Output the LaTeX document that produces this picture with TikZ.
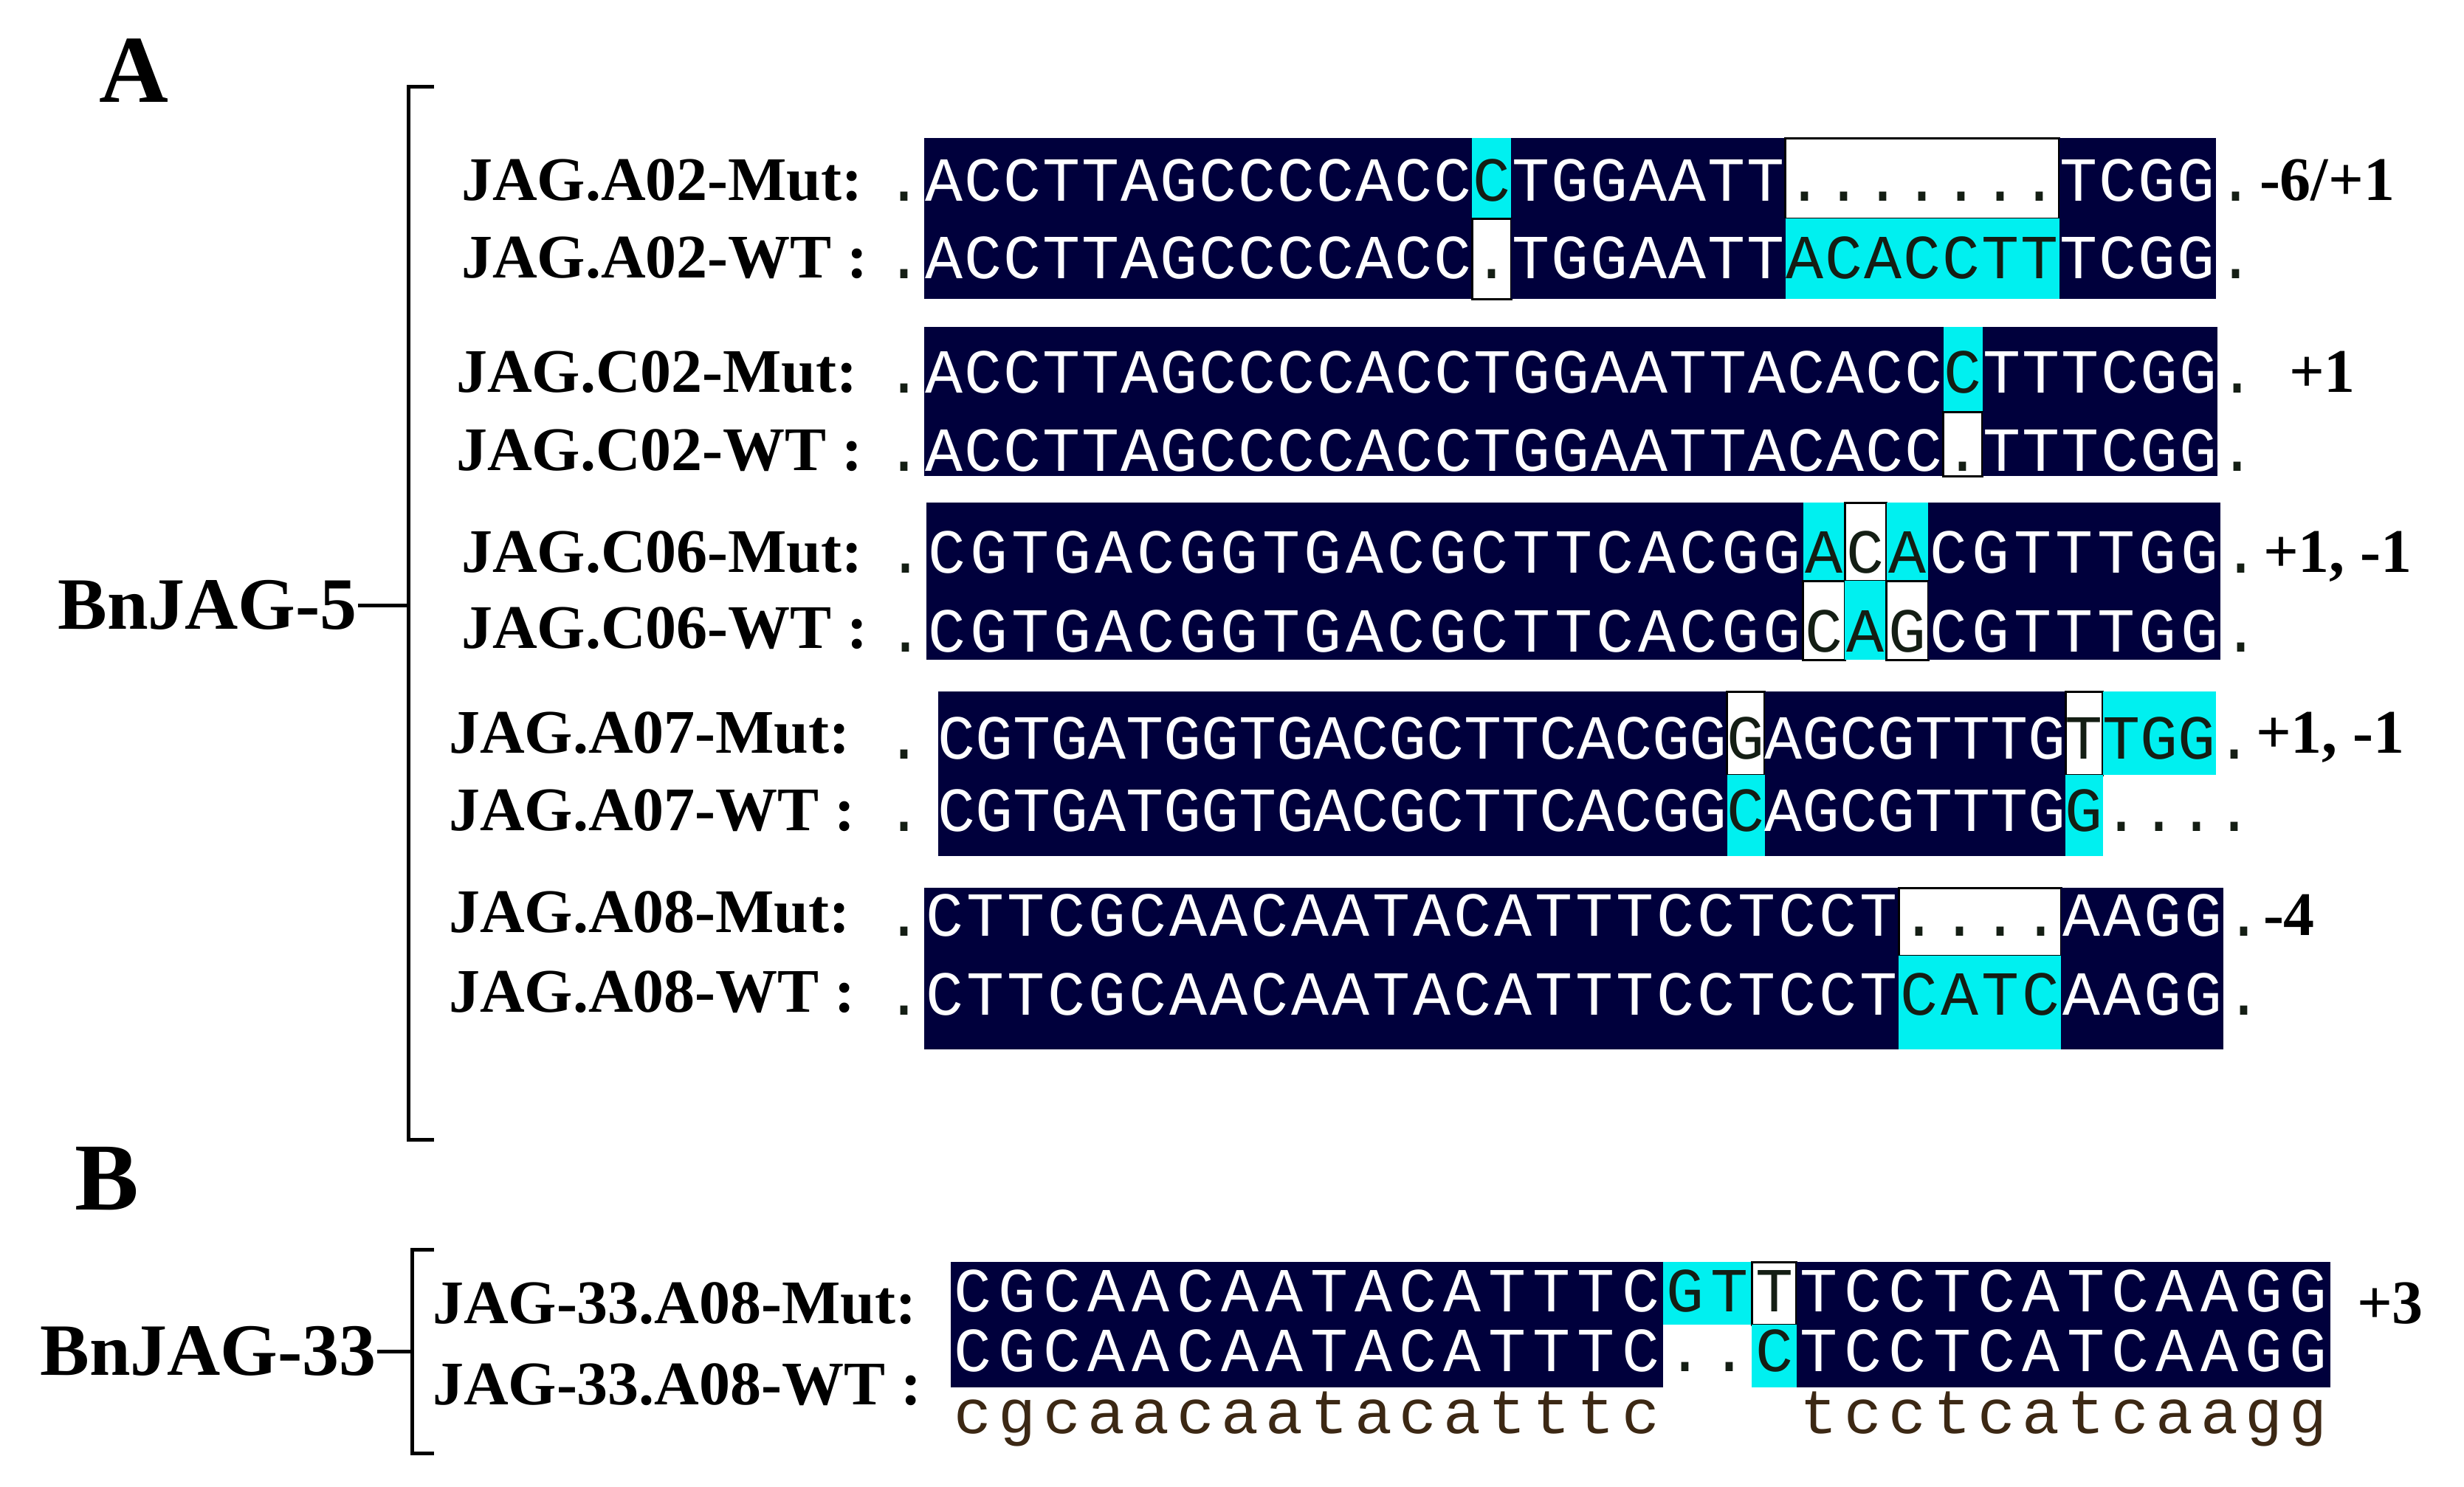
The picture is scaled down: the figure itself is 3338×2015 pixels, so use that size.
\documentclass[tikz,border=0pt]{standalone}
\usepackage{fontspec}
\usetikzlibrary{calc}
\setmainfont{Liberation Serif}
\newfontfamily\monof{Liberation Mono}
\definecolor{navy}{RGB}{0,0,60}
\definecolor{cy}{RGB}{0,240,240}
\definecolor{dk}{RGB}{20,30,20}
\definecolor{lc}{RGB}{60,40,20}
\newcommand\blk[2]{\def\xa{#1}\def\cw{#2}}
\newcommand\rc[5]{\fill[#1] ({\xa+#2*\cw},#4) rectangle ({\xa+#3*\cw},#5);}
\newcommand\gp[4]{\draw[gapl] ({\xa+#1*\cw},#3) rectangle ({\xa+#2*\cw},#4);}
\newcommand\sq[4]{\pgfmathsetmacro\xx{\xa+(#1+0.5)*\cw}\def\yy{#2}\def\sqcol{#3}\seqloop#4\relax}
\def\seqloop#1{\ifx\relax#1\else\if-#1\else\node[seqch,text=\sqcol] at (\xx,{\yy+27}) {#1};\fi\pgfmathsetmacro\xx{\xx+\cw}\expandafter\seqloop\fi}
\begin{document}
\begin{tikzpicture}[x=0.2pt,y=-0.2pt,
  seqch/.style={font=\monof\fontsize{17}{17}\selectfont,inner sep=0pt,anchor=base},
  lab/.style={font=\bfseries\fontsize{16.8}{16.8}\selectfont,inner sep=0pt,anchor=base west},
  rl/.style={font=\bfseries\fontsize{16.8}{16.8}\selectfont,inner sep=0pt,anchor=base west},
  big/.style={font=\bfseries\fontsize{26}{26}\selectfont,inner sep=0pt},
  gn/.style={font=\bfseries\fontsize{20}{20}\selectfont,inner sep=0pt,anchor=east},
  gapl/.style={fill=white,draw=black,line width=0.6pt},
  br/.style={draw=black,line width=1pt}]
\useasboundingbox (0,0) rectangle (3338,2015);
\fill[white] (0,0) rectangle (3338,2015);
% headings
\node[big] (A) at (181,96) {A};
\node[big] (B) at (145,1597) {B};
\node[gn] (g5) at (485,820) {BnJAG-5};
\node[gn] (g33) at (511,1831) {BnJAG-33};
\coordinate (b5t) at (553,117); \coordinate (b5b) at (553,1544); \coordinate (b5m) at (553,820);
\draw[br] ($(b5t)+(35,0)$) -- (b5t) -- (b5b) -- ++(35,0);
\draw[br] (g5.east) -- (b5m);
\coordinate (b3t) at (558,1693); \coordinate (b3b) at (558,1969); \coordinate (b3m) at (558,1831);
\draw[br] ($(b3t)+(30,0)$) -- (b3t) -- (b3b) -- ++(30,0);
\draw[br] (g33.east) -- (b3m);
% labels
\node[lab] (l1) at (624,271) {JAG.A02-Mut:};
\node[lab] (l2) at (624,376) {JAG.A02-WT :};
\node[lab] (l3) at (617,531) {JAG.C02-Mut:};
\node[lab] (l4) at (617,637) {JAG.C02-WT :};
\node[lab] (l5) at (624,775) {JAG.C06-Mut:};
\node[lab] (l6) at (624,878) {JAG.C06-WT :};
\node[lab] (l7) at (607,1020) {JAG.A07-Mut:};
\node[lab] (l8) at (607,1125) {JAG.A07-WT :};
\node[lab] (l9) at (607,1263) {JAG.A08-Mut:};
\node[lab] (l10) at (607,1371) {JAG.A08-WT :};
\node[lab] (l11) at (585,1793) {JAG-33.A08-Mut:};
\node[lab] (l12) at (585,1903) {JAG-33.A08-WT :};
% ---------- A02
\blk{1252}{53.03}
\rc{navy}{0}{14}{187}{296}\rc{cy}{14}{15}{187}{296}\rc{navy}{15}{22}{187}{296}\gp{22}{29}{187}{296}\rc{navy}{29}{33}{187}{296}
\rc{navy}{0}{14}{296}{405}\gp{14}{15}{296}{405}\rc{navy}{15}{22}{296}{405}\rc{cy}{22}{29}{296}{405}\rc{navy}{29}{33}{296}{405}
\sq{0}{245}{white}{ACCTTAGCCCCACC-TGGAATT-------TCGG}\sq{14}{245}{dk}{C}\sq{22}{245}{dk}{.......}
\sq{0}{350}{white}{ACCTTAGCCCCACC-TGGAATT-------TCGG}\sq{14}{350}{dk}{.}\sq{22}{350}{dk}{ACACCTT}
\sq{-1}{245}{dk}{.}\sq{-1}{350}{dk}{.}\sq{33}{245}{dk}{.}\sq{33}{350}{dk}{.}
\node[rl] (r1) at (3060,271) {-6/+1};
% ---------- C02
\blk{1252}{53.1}
\rc{navy}{0}{26}{443}{558}\rc{cy}{26}{27}{443}{558}\rc{navy}{27}{33}{443}{558}
\rc{navy}{0}{26}{558}{645}\gp{26}{27}{558}{645}\rc{navy}{27}{33}{558}{645}
\sq{0}{505}{white}{ACCTTAGCCCCACCTGGAATTACACC-TTTCGG}\sq{26}{505}{dk}{C}
\sq{0}{611}{white}{ACCTTAGCCCCACCTGGAATTACACC-TTTCGG}\sq{26}{611}{dk}{.}
\sq{-1}{505}{dk}{.}\sq{-1}{611}{dk}{.}\sq{33}{505}{dk}{.}\sq{33}{611}{dk}{.}
\node[rl] (r2) at (3100,531) {+1};
% ---------- C06
\blk{1255}{56.55}
\rc{navy}{0}{21}{681}{787}\rc{cy}{21}{22}{681}{787}\gp{22}{23}{681}{787}\rc{cy}{23}{24}{681}{787}\rc{navy}{24}{31}{681}{787}
\rc{navy}{0}{21}{787}{894}\gp{21}{22}{787}{894}\rc{cy}{22}{23}{787}{894}\gp{23}{24}{787}{894}\rc{navy}{24}{31}{787}{894}
\sq{0}{749}{white}{CGTGACGGTGACGCTTCACGG---CGTTTGG}\sq{21}{749}{dk}{ACA}
\sq{0}{856}{white}{CGTGACGGTGACGCTTCACGG---CGTTTGG}\sq{21}{856}{dk}{CAG}
\sq{-1}{749}{dk}{.}\sq{-1}{856}{dk}{.}\sq{31}{749}{dk}{.}\sq{31}{856}{dk}{.}
\node[rl] (r3) at (3065,775) {+1, -1};
% ---------- A07
\blk{1271}{50.9}
\rc{navy}{0}{21}{937}{1050}\gp{21}{22}{937}{1050}\rc{navy}{22}{30}{937}{1050}\gp{30}{31}{937}{1050}\rc{cy}{31}{34}{937}{1050}
\rc{navy}{0}{21}{1050}{1160}\rc{cy}{21}{22}{1050}{1160}\rc{navy}{22}{30}{1050}{1160}\rc{cy}{30}{31}{1050}{1160}
\sq{0}{1001}{white}{CGTGATGGTGACGCTTCACGG-AGCGTTTG}\sq{21}{1001}{dk}{G}\sq{30}{1001}{dk}{TTGG.}
\sq{0}{1099}{white}{CGTGATGGTGACGCTTCACGG-AGCGTTTG}\sq{21}{1099}{dk}{C}\sq{30}{1099}{dk}{G....}
\sq{-1.4}{1001}{dk}{.}\sq{-1.4}{1099}{dk}{.}
\node[rl] (r4) at (3055,1020) {+1, -1};
% ---------- A08
\blk{1252}{55}
\rc{navy}{0}{24}{1203}{1295}\gp{24}{28}{1203}{1295}\rc{navy}{28}{32}{1203}{1295}
\rc{navy}{0}{24}{1295}{1422}\rc{cy}{24}{28}{1295}{1422}\rc{navy}{28}{32}{1295}{1422}
\sq{0}{1241}{white}{CTTCGCAACAATACATTTCCTCCT----AAGG}\sq{24}{1241}{dk}{....}
\sq{0}{1348}{white}{CTTCGCAACAATACATTTCCTCCT----AAGG}\sq{24}{1348}{dk}{CATC}
\sq{-1}{1241}{dk}{.}\sq{-1}{1348}{dk}{.}\sq{32}{1241}{dk}{.}\sq{32}{1348}{dk}{.}
\node[rl] (r5) at (3065,1267) {-4};
% ---------- B
\blk{1288}{60.3}
\rc{navy}{0}{16}{1710}{1795}\rc{cy}{16}{18}{1710}{1795}\gp{18}{19}{1710}{1795}\rc{navy}{19}{31}{1710}{1795}
\rc{navy}{0}{16}{1795}{1880}\rc{cy}{18}{19}{1795}{1880}\rc{navy}{19}{31}{1795}{1880}
\sq{0}{1750}{white}{CGCAACAATACATTTC---TCCTCATCAAGG}\sq{16}{1750}{dk}{GTT}
\sq{0}{1831}{white}{CGCAACAATACATTTC---TCCTCATCAAGG}\sq{16}{1831}{dk}{..C}
\sq{0}{1915}{lc}{cgcaacaatacatttc---tcctcatcaagg}
\node[rl] (r6) at (3192,1793) {+3};
\end{tikzpicture}
\end{document}
